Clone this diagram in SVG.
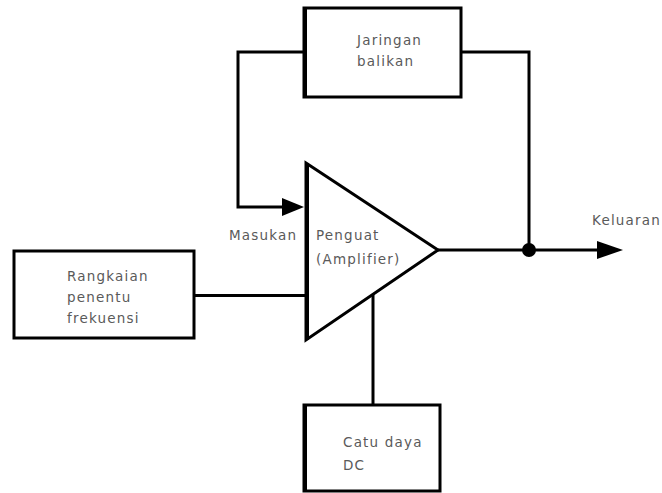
<svg xmlns="http://www.w3.org/2000/svg" width="662" height="493" viewBox="0 0 662 493">
<defs>
<style>
.box{fill:#fff;stroke:#000;stroke-width:3}
.w{fill:none;stroke:#000;stroke-width:3}
.t{font-family:"DejaVu Sans","Liberation Sans",sans-serif;font-size:13.5px;letter-spacing:1.2px;fill:#5a5a5a}
</style>
</defs>
<rect width="662" height="493" fill="#fff"/>
<g id="connectors">
<polyline class="w" points="304,52 238,52 238,207 284,207"/>
<path d="M282,198 L304,207 L282,216 Z" fill="#000"/>
<polyline class="w" points="461,52 529,52 529,250"/>
<line class="w" x1="438" y1="250" x2="600" y2="250"/>
<path d="M597,241 L623,250 L597,259 Z" fill="#000"/>
<circle cx="529" cy="250" r="7" fill="#000"/>
<line class="w" x1="194" y1="295.5" x2="306" y2="295.5"/>
<line class="w" x1="373" y1="294" x2="373" y2="405"/>
</g>
<g id="jaringan">
<rect class="box" x="304" y="8" width="157" height="89"/>
<line x1="305" y1="8" x2="305" y2="97" stroke="#000" stroke-width="4"/>
<text class="t" x="357" y="45">Jaringan</text>
<text class="t" x="357" y="66">balikan</text>
</g>
<g id="penguat">
<path d="M306,163 L438,250 L306,340 Z" fill="#fff" stroke="#000" stroke-width="3" stroke-linejoin="miter"/>
<line x1="307" y1="163" x2="307" y2="340" stroke="#000" stroke-width="4"/>
<text class="t" x="316" y="240">Penguat</text>
<text class="t" x="316" y="264">(Amplifier)</text>
</g>
<g id="masukan">
<text class="t" x="229" y="240">Masukan</text>
</g>
<g id="keluaran">
<text class="t" x="592" y="225">Keluaran</text>
</g>
<g id="rangkaian">
<rect class="box" x="14" y="251" width="180" height="87"/>
<text class="t" x="67" y="281">Rangkaian</text>
<text class="t" x="67" y="302">penentu</text>
<text class="t" x="67" y="323">frekuensi</text>
</g>
<g id="catu">
<rect class="box" x="304" y="405" width="136" height="86"/>
<line x1="305" y1="405" x2="305" y2="491" stroke="#000" stroke-width="4"/>
<text class="t" x="343" y="447">Catu daya</text>
<text class="t" x="343" y="470">DC</text>
</g>
</svg>
